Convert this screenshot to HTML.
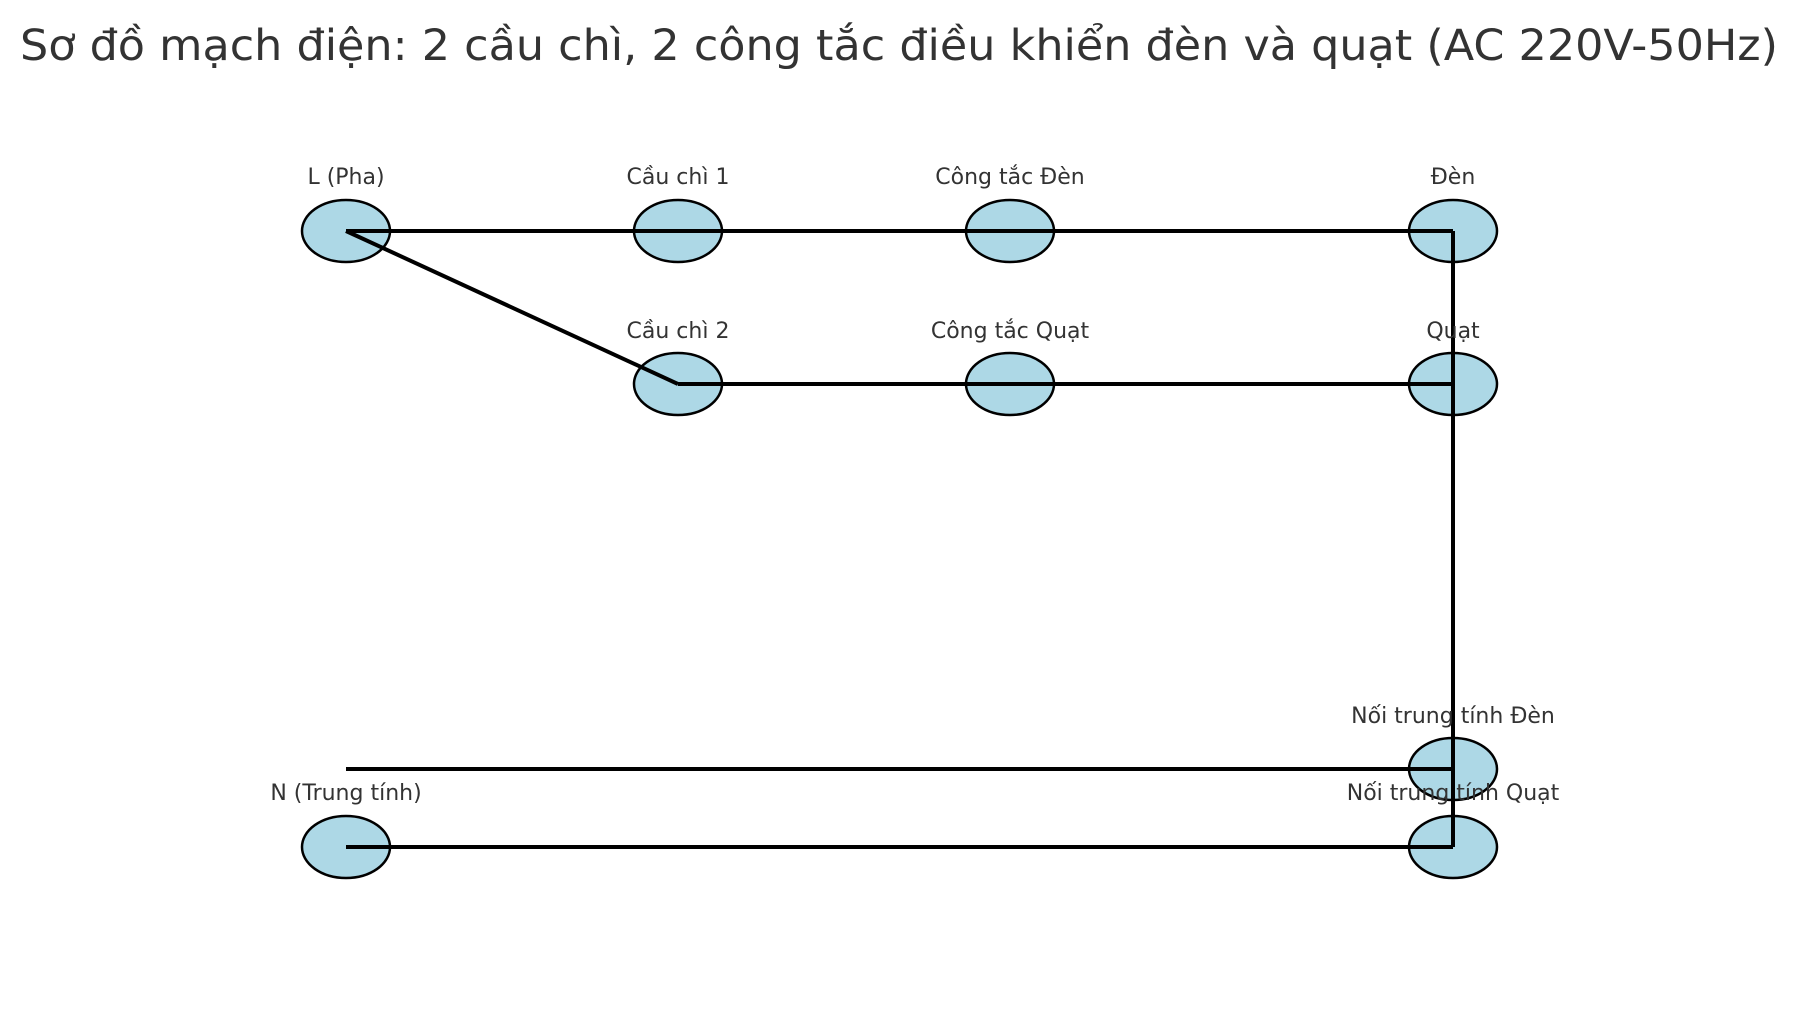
<!DOCTYPE html>
<html><head><meta charset="utf-8"><style>
html,body{margin:0;padding:0;background:#fff;}
svg{display:block;}
text{font-family:"DejaVu Sans","Liberation Sans",sans-serif;fill:#333;}
</style></head><body>
<svg width="1798" height="1020" viewBox="0 0 1798 1020">
<text x="899" y="60" font-size="43" text-anchor="middle" textLength="1758" lengthAdjust="spacingAndGlyphs">Sơ đồ mạch điện: 2 cầu chì, 2 công tắc điều khiển đèn và quạt (AC 220V-50Hz)</text>
<g fill="#add8e6" stroke="#000" stroke-width="2.5">
<ellipse cx="346" cy="231" rx="44" ry="31"/>
<ellipse cx="678" cy="231" rx="44" ry="31"/>
<ellipse cx="1010" cy="231" rx="44" ry="31"/>
<ellipse cx="1453" cy="231" rx="44" ry="31"/>
<ellipse cx="678" cy="384" rx="44" ry="31"/>
<ellipse cx="1010" cy="384" rx="44" ry="31"/>
<ellipse cx="1453" cy="384" rx="44" ry="31"/>
<ellipse cx="1453" cy="769" rx="44" ry="31"/>
<ellipse cx="346" cy="847" rx="44" ry="31"/>
<ellipse cx="1453" cy="847" rx="44" ry="31"/>
</g>
<g stroke="#000" stroke-width="4" fill="none">
<line x1="346" y1="231" x2="1453" y2="231"/>
<line x1="346" y1="231" x2="678" y2="384"/>
<line x1="678" y1="384" x2="1453" y2="384"/>
<line x1="1453" y1="231" x2="1453" y2="847"/>
<line x1="346" y1="769" x2="1453" y2="769"/>
<line x1="346" y1="847" x2="1453" y2="847"/>
</g>
<g font-size="22" text-anchor="middle">
<text x="346" y="184">L (Pha)</text>
<text x="678" y="184">Cầu chì 1</text>
<text x="1010" y="184">Công tắc Đèn</text>
<text x="1453" y="184">Đèn</text>
<text x="678" y="338">Cầu chì 2</text>
<text x="1010" y="338">Công tắc Quạt</text>
<text x="1453" y="338">Quạt</text>
<text x="1453" y="723">Nối trung tính Đèn</text>
<text x="1453" y="800">Nối trung tính Quạt</text>
<text x="346" y="800">N (Trung tính)</text>
</g>
</svg>
</body></html>
